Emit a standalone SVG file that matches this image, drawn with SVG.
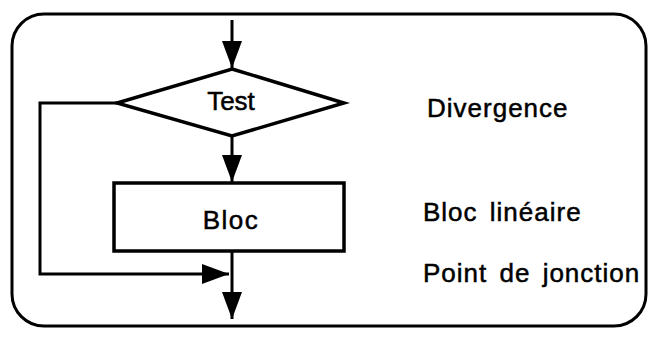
<svg xmlns="http://www.w3.org/2000/svg" width="649" height="337" viewBox="0 0 649 337">
<style>
.ln{fill:none;stroke:#000;stroke-width:3;stroke-linejoin:miter}
.shape{fill:#fff;stroke:#000;stroke-width:3.5}
.t{font-family:"Liberation Sans",Arial,sans-serif;font-size:26px;fill:#000;stroke:#000;stroke-width:0.5;letter-spacing:1px;word-spacing:4px}
.c{text-anchor:middle}
</style>
<defs>
<marker id="ah" markerWidth="27" markerHeight="20" refX="27" refY="10" viewBox="0 0 27 20" markerUnits="userSpaceOnUse" orient="auto">
<path d="M0,0 L27,10 L0,20 Z" fill="#000"/>
</marker>
</defs>
<rect id="frame" x="12" y="14" width="634" height="312" rx="32" ry="32" fill="none" stroke="#000" stroke-width="3"/>
<g id="connectors">
<path class="ln" d="M232,20 L232,68" marker-end="url(#ah)"/>
<path class="ln" d="M232,136 L232,182" marker-end="url(#ah)"/>
<path class="ln" d="M117,103 L40,103 L40,274 L229,274" marker-end="url(#ah)"/>
<path class="ln" d="M232,251 L232,319" marker-end="url(#ah)"/>
</g>
<g id="test">
<polygon class="shape" points="232,69 344,103 232,136 117,103"/>
<text class="t c" x="231" y="110" style="letter-spacing:0px">Test</text>
</g>
<g id="bloc">
<rect class="shape" x="114" y="183" width="230" height="68"/>
<text class="t c" x="231" y="229" style="letter-spacing:1.5px">Bloc</text>
</g>
<g id="labels">
<text class="t" x="427" y="117">Divergence</text>
<text class="t" x="423" y="221">Bloc linéaire</text>
<text class="t" x="423" y="282">Point de jonction</text>
</g>
</svg>
